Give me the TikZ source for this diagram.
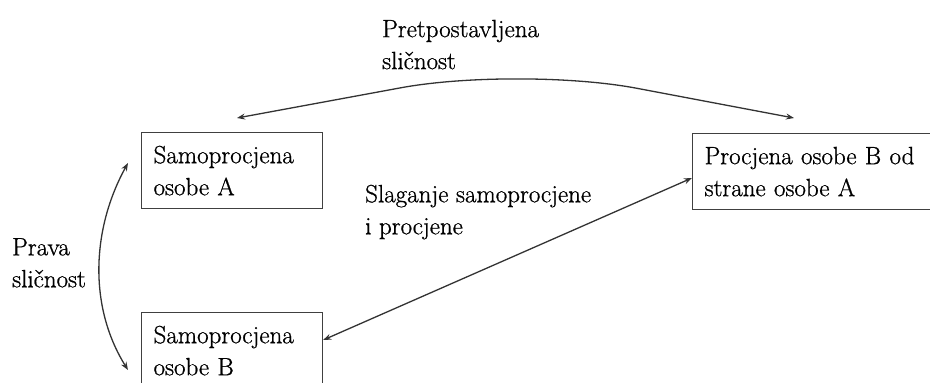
\documentclass[tikz,border=0pt]{standalone}
\usepackage{fontspec}
\setmainfont{Latin Modern Roman}[FakeBold=0.8]
\usetikzlibrary{arrows.meta}
\begin{document}
\begin{tikzpicture}[x=1pt,y=-1pt,
  txt/.style={inner sep=0pt,align=left,anchor=north west,font=\fontsize{25}{32}\selectfont},
  boxnode/.style={draw=black!75,line width=1.2pt,anchor=north west,inner xsep=12pt,inner ysep=0pt,
    minimum height=76pt,align=left,font=\fontsize{25}{32}\selectfont},
  dbl/.style={draw=black!80,line width=1.3pt,{Stealth[length=8pt,width=6pt]}-{Stealth[length=8pt,width=6pt]}}]
\useasboundingbox (0,0) rectangle (930,383);
\fill[white] (0,0) rectangle (930,383);
\node[boxnode,text width=157pt] (boxA) at (141,132) {Samoprocjena\\osobe A};
\node[boxnode,text width=157pt] (boxB) at (141,312) {Samoprocjena\\osobe B};
\node[boxnode,text width=232pt] (boxC) at (692,133) {Procjena osobe B od\\strane osobe A};
\node[txt] (lpret) at (382,19.6) {Pretpostavljena\\sličnost};
\node[txt] (lslag) at (365,184.6) {Slaganje samoprocjene\\i procjene};
\node[txt] (lprava) at (12,238) {Prava\\sličnost};
\coordinate (tl) at (237,118);
\coordinate (tr) at (794,118);
\coordinate (apex) at (519,66);
\draw[dbl,rounded corners=120pt] (tl) -- (apex) -- (tr);
\coordinate (la) at ([xshift=-13pt,yshift=-31pt]boxA.north west);
\coordinate (lb) at ([xshift=-13pt,yshift=-58pt]boxB.north west);
\draw[dbl] (la) .. controls (92,228) and (88,306) .. (lb);
\draw[dbl] ([yshift=-28pt]boxB.north east) -- ([yshift=-45pt]boxC.north west);
\end{tikzpicture}
\end{document}
